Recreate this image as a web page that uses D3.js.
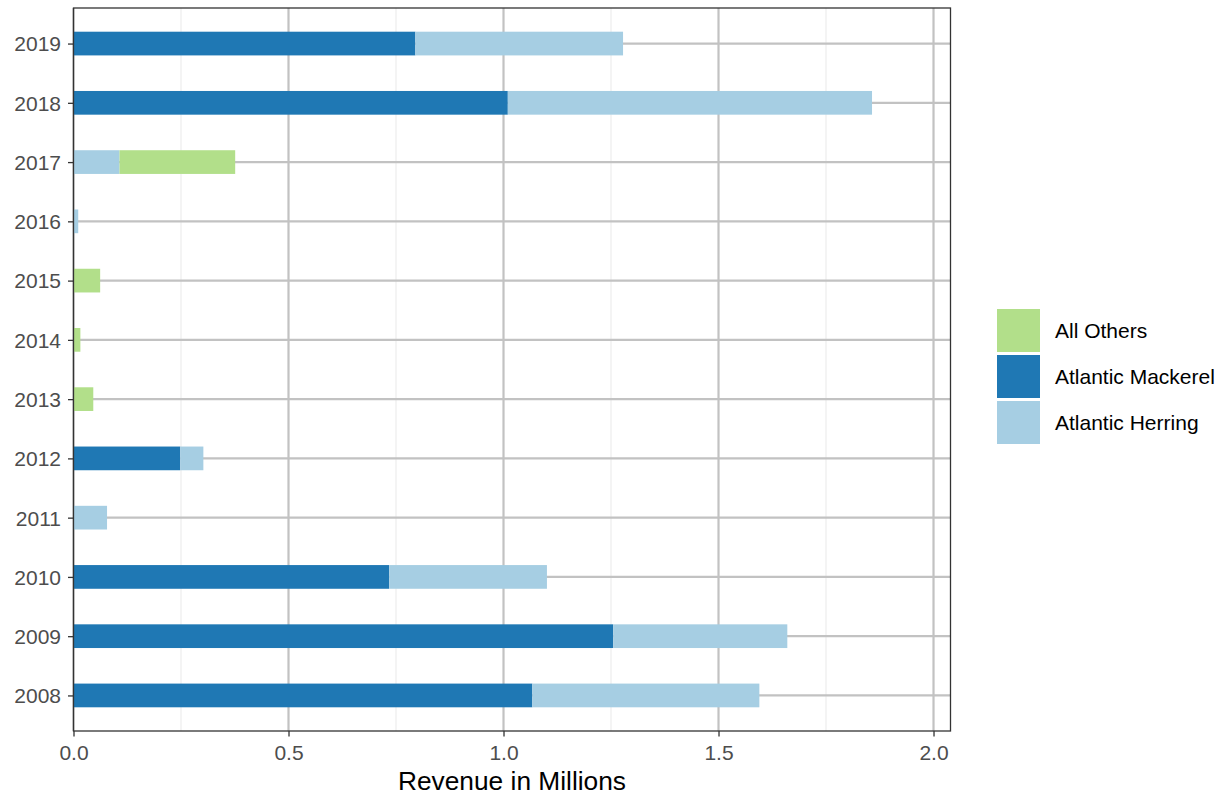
<!DOCTYPE html>
<html><head><meta charset="utf-8">
<script src="https://cdn.jsdelivr.net/npm/d3@7"></script>
<style>body{margin:0;background:#fff;} text{font-family:"Liberation Sans",Arial,sans-serif;}</style>
</head><body><svg id="c" width="1225" height="797"></svg>
<script>
const years = ["2008","2009","2010","2011","2012","2013","2014","2015","2016","2017","2018","2019"];
const mackerel = [1.067,1.255,0.734,0,0.248,0,0,0,0,0,1.010,0.795];
const herring  = [0.528,0.405,0.367,0.078,0.054,0,0,0,0.011,0.107,0.847,0.483];
const others   = [0,0,0,0,0,0.046,0.016,0.062,0,0.269,0,0];
const seriesNames = ["Atlantic Mackerel","Atlantic Herring","All Others"];
const seriesColors = ["#1f78b4","#a6cee3","#b2df8a"];
const legendOrder = ["All Others","Atlantic Mackerel","Atlantic Herring"];
const xTicks = [0,0.5,1,1.5,2];
const xMinor = [0.25,0.75,1.25,1.75];

const svg = d3.select("#c");
const L=73.5, R=950.5, T=8, B=731;
const x = d3.scaleLinear().domain([0, 2.0395]).range([L, R]);
const y = d3.scalePoint().domain(years).range([B, T]).padding(0.6);
const bw = y.step()*0.4;

const rows = years.map((yr,i)=>({year:yr,"Atlantic Mackerel":mackerel[i],"Atlantic Herring":herring[i],"All Others":others[i]}));
const stack = d3.stack().keys(seriesNames)(rows);
const color = d3.scaleOrdinal().domain(seriesNames).range(seriesColors);

svg.append("g").selectAll("line").data(xMinor).join("line")
  .attr("x1",d=>x(d)).attr("x2",d=>x(d)).attr("y1",T).attr("y2",B)
  .attr("stroke","#ebebeb").attr("stroke-width",1.1);
svg.append("g").selectAll("line").data(xTicks).join("line")
  .attr("x1",d=>x(d)).attr("x2",d=>x(d)).attr("y1",T).attr("y2",B)
  .attr("stroke","#c2c2c2").attr("stroke-width",2.2);
svg.append("g").selectAll("line").data(years).join("line")
  .attr("x1",L).attr("x2",R).attr("y1",d=>y(d)).attr("y2",d=>y(d))
  .attr("stroke","#c2c2c2").attr("stroke-width",2.2);

svg.append("g").selectAll("g").data(stack).join("g").attr("fill",d=>color(d.key))
  .selectAll("rect").data(d=>d.filter(p=>p[1]-p[0]>0)).join("rect")
  .attr("x",d=>x(d[0])).attr("width",d=>x(d[1])-x(d[0]))
  .attr("y",d=>y(d.data.year)-bw/2).attr("height",bw);

svg.append("rect").attr("x",L).attr("y",T).attr("width",R-L).attr("height",B-T)
  .attr("fill","none").attr("stroke","#333").attr("stroke-width",1.3);

const xa = svg.append("g").attr("transform",`translate(0,${B})`)
  .call(d3.axisBottom(x).tickValues(xTicks).tickFormat(d3.format(".1f")).tickSizeOuter(0).tickSizeInner(5.5).tickPadding(9));
const ya = svg.append("g").attr("transform",`translate(${L},0)`)
  .call(d3.axisLeft(y).tickSizeOuter(0).tickSizeInner(5.5).tickPadding(7));
[xa,ya].forEach(a=>{
  a.select(".domain").remove();
  a.selectAll(".tick line").attr("stroke","#333").attr("stroke-width",1.3);
  a.selectAll(".tick text").attr("fill","#4d4d4d").style("font-size","21px").style("font-family","'Liberation Sans',Arial,sans-serif");
});
ya.selectAll(".tick text").attr("dy","0.35em");

svg.append("text").attr("x",(L+R)/2).attr("y",790).attr("text-anchor","middle")
  .style("font-size","26.3px").attr("fill","#000").text("Revenue in Millions");

const lg = svg.append("g").attr("transform","translate(997,309)");
legendOrder.forEach((k,i)=>{
  lg.append("rect").attr("x",0).attr("y",i*46).attr("width",43).attr("height",43).attr("fill",color(k));
  lg.append("text").attr("x",58).attr("y",i*46+21.5).attr("dy","0.35em")
    .style("font-size","21px").attr("fill","#000").text(k);
});
</script></body></html>
